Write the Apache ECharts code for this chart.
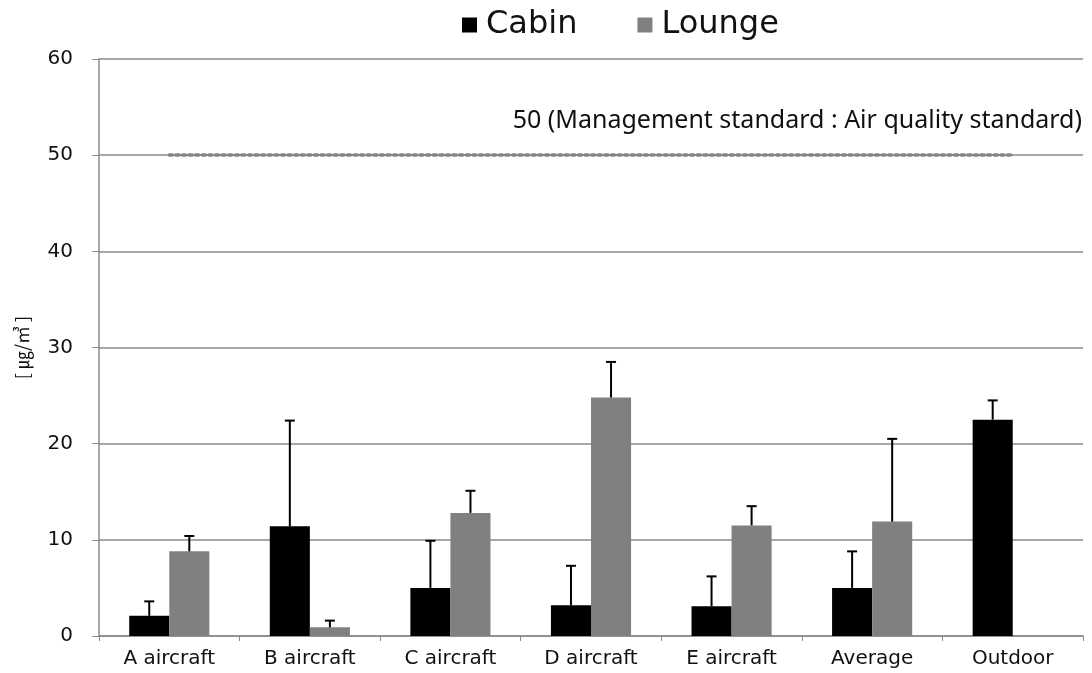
<!DOCTYPE html>
<html>
<head>
<meta charset="utf-8">
<script src="https://cdn.jsdelivr.net/npm/echarts@6/dist/echarts.min.js"></script>
<style>html,body{margin:0;padding:0;background:#fff}#c{width:1092px;height:673px}</style>
</head>
<body>
<div id="c"></div>
<script>
var categories = ['A aircraft', 'B aircraft', 'C aircraft', 'D aircraft', 'E aircraft', 'Average', 'Outdoor'];
var cabinValues = [2.1, 11.4, 5.0, 3.2, 3.1, 5.0, 22.5];
var cabinSd = [1.5, 11.0, 4.9, 4.1, 3.1, 3.8, 2.0];
var loungeValues = [8.8, 0.9, 12.8, 24.8, 11.5, 11.9, null];
var loungeSd = [1.6, 0.7, 2.3, 3.7, 2.0, 8.6, null];
var standardValue = 50;
var standardLabel = '50 (Management standard : Air quality standard)';
var yTicks = { min: 0, max: 60, interval: 10 };

var GAP = 0.43;
function errData(vals, sds) {
  var out = [];
  for (var i = 0; i < vals.length; i++) {
    if (vals[i] == null || sds[i] == null) continue;
    out.push([i, vals[i], vals[i] + sds[i]]);
  }
  return out;
}
function errRender(sign) {
  return function (params, api) {
    var idx = api.value(0);
    var lo = api.coord([idx, api.value(1)]);
    var hi = api.coord([idx, api.value(2)]);
    var band = api.size([1, 0])[0];
    var bw = band * (1 - GAP) / 2;
    var x = lo[0] + sign * bw / 2;
    var st = { stroke: '#000', lineWidth: 2 };
    return {
      type: 'group',
      children: [
        { type: 'line', shape: { x1: x, y1: lo[1], x2: x, y2: hi[1] }, style: st },
        { type: 'line', shape: { x1: x - 5, y1: hi[1], x2: x + 5, y2: hi[1] }, style: st }
      ]
    };
  };
}

var chart = echarts.init(document.getElementById('c'));
chart.setOption({
  animation: false,
  backgroundColor: '#fff',
  grid: { left: 99, right: 9, top: 59, bottom: 37, containLabel: false },
  legend: {
    data: ['Cabin', 'Lounge'],
    left: 457, top: 4,
    icon: 'rect', itemWidth: 15, itemHeight: 15, itemGap: 60,
    textStyle: { fontFamily: 'DejaVu Sans', fontSize: 32, color: '#111', padding: [0, 0, 0, 4] }
  },
  graphic: [{
    type: 'text', right: 10, top: 108,
    style: { text: standardLabel, font: '25px "Noto Sans"', fill: '#111' }
  }],
  xAxis: {
    type: 'category', data: categories,
    axisLine: { lineStyle: { color: '#8a8a8a', width: 1.5 } },
    axisTick: { show: true, length: 5, interval: 0, lineStyle: { color: '#8a8a8a' } },
    axisLabel: { fontFamily: 'DejaVu Sans', fontSize: 20, color: '#111', margin: 13, interval: 0 }
  },
  yAxis: {
    type: 'value', min: yTicks.min, max: yTicks.max, interval: yTicks.interval,
    name: '[ ㎍/㎥ ]', nameLocation: 'middle', nameGap: 68, nameRotate: 90,
    nameTextStyle: { fontFamily: 'Noto Sans CJK KR', fontSize: 18, color: '#111' },
    axisLine: { show: true, lineStyle: { color: '#8a8a8a', width: 1.5 } },
    axisTick: { show: true, length: 7, lineStyle: { color: '#8a8a8a' } },
    axisLabel: { fontFamily: 'DejaVu Sans', fontSize: 20, color: '#111', margin: 26 },
    splitLine: { lineStyle: { color: '#8a8a8a', width: 1.5 } }
  },
  series: [
    {
      name: 'Cabin', type: 'bar', data: cabinValues,
      barGap: '0%', barCategoryGap: (GAP * 100) + '%',
      itemStyle: { color: '#000' }
    },
    {
      name: 'Lounge', type: 'bar', data: loungeValues,
      barGap: '0%', barCategoryGap: (GAP * 100) + '%',
      itemStyle: { color: '#808080' }
    },
    {
      name: 'Standard', type: 'line', data: [], silent: true,
      markLine: {
        silent: true, symbol: 'none', label: { show: false },
        data: [
          [{ xAxis: categories[0], yAxis: standardValue, lineStyle: { type: 'solid', width: 1.5, color: '#777' } },
           { xAxis: categories[categories.length - 1], yAxis: standardValue }],
          [{ xAxis: categories[0], yAxis: standardValue, lineStyle: { type: [3, 3.6], width: 3.5, color: '#858585', cap: 'round' } },
           { xAxis: categories[categories.length - 1], yAxis: standardValue }]
        ]
      }
    },
    {
      type: 'custom', name: 'CabinErr', renderItem: errRender(-1),
      data: errData(cabinValues, cabinSd), z: 5, encode: { x: 0, y: [1, 2] }
    },
    {
      type: 'custom', name: 'LoungeErr', renderItem: errRender(1),
      data: errData(loungeValues, loungeSd), z: 5, encode: { x: 0, y: [1, 2] }
    }
  ]
});
</script>
</body>
</html>
